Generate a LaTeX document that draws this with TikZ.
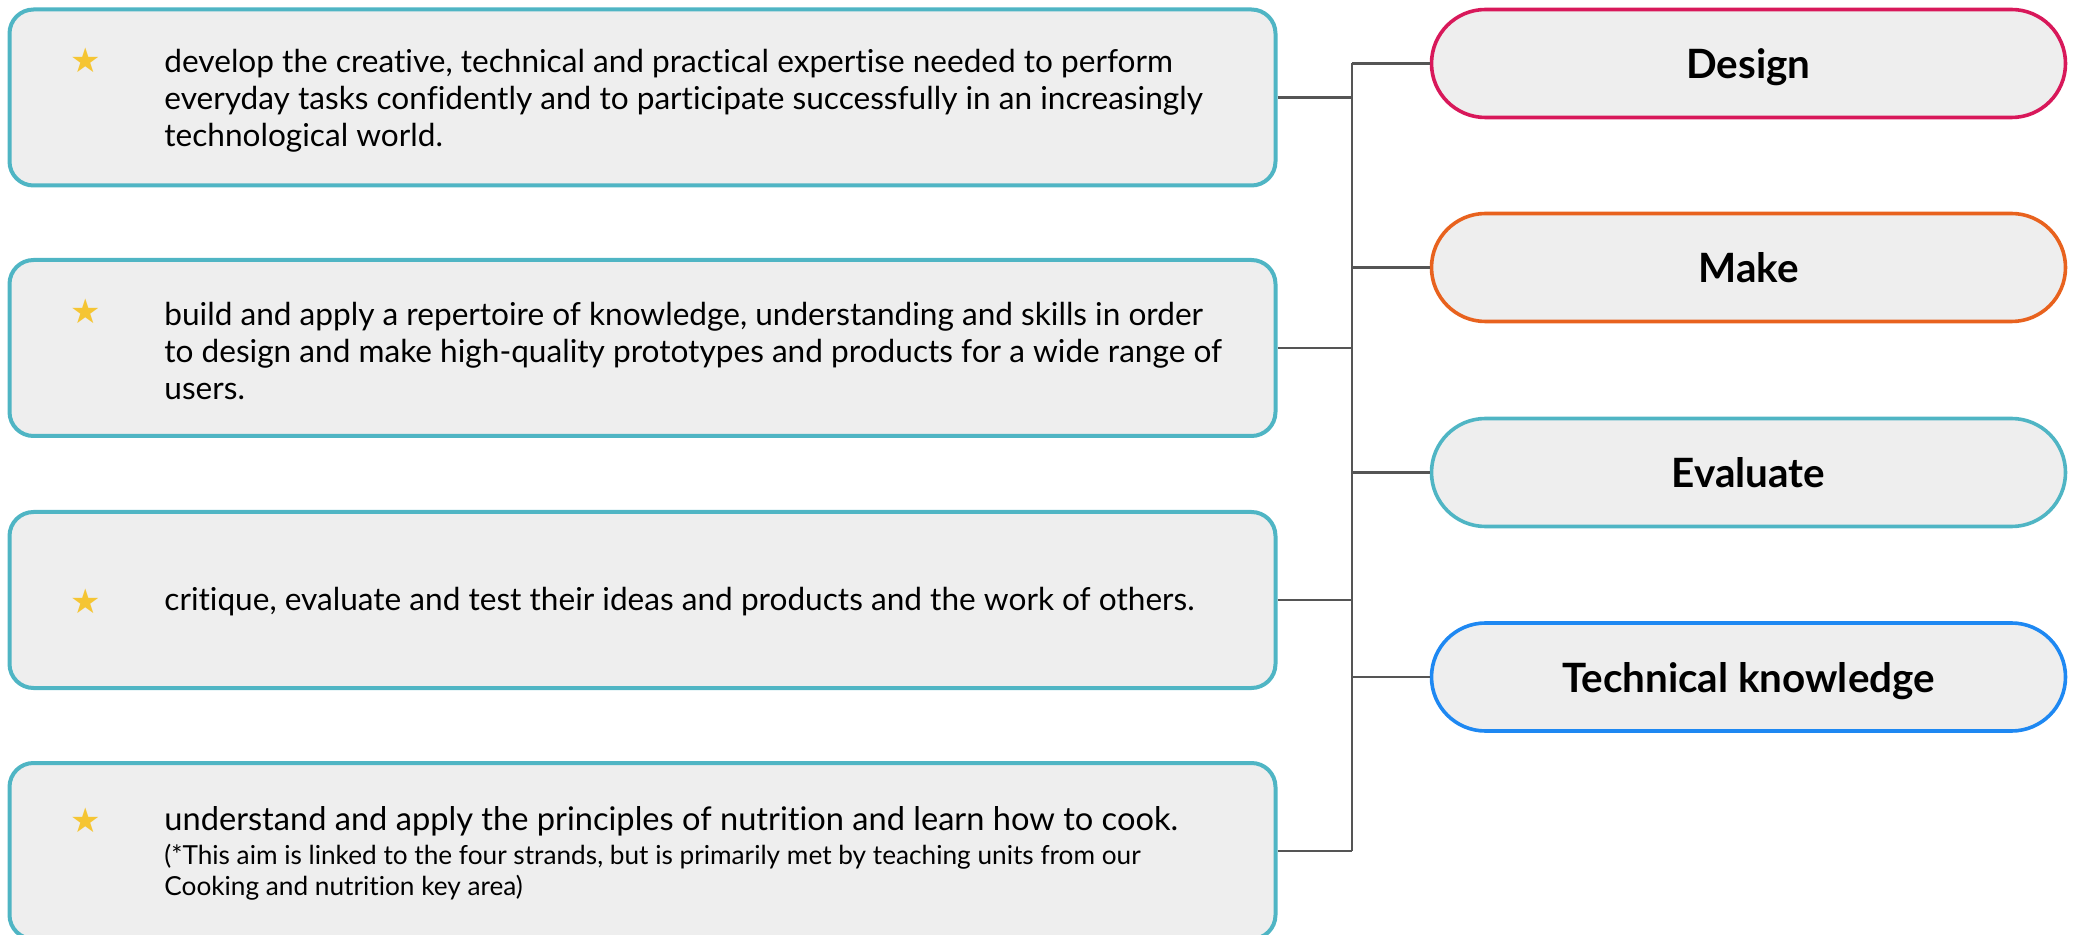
\documentclass[tikz,border=0pt]{standalone}
\usepackage{fontspec}
\setmainfont{Lato}[Ligatures=NoCommon]
\newfontfamily\starfont{DejaVu Sans}
\usetikzlibrary{positioning}

\definecolor{aimteal}{HTML}{4FB5C4}
\definecolor{aimgrey}{HTML}{EEEEEE}
\definecolor{strandred}{HTML}{D8185A}
\definecolor{strandorange}{HTML}{E8621E}
\definecolor{strandblue}{HTML}{1E88F2}
\definecolor{stargold}{HTML}{F5C533}
\definecolor{linkgrey}{HTML}{555555}
\tikzset{aim/.style={draw=aimteal, fill=aimgrey, line width=2pt, rounded corners=12pt, minimum width=633pt, minimum height=88pt}}
\tikzset{strand/.style={draw=#1, fill=aimgrey, line width=1.8pt, rounded corners=27pt, minimum width=317pt, minimum height=54pt, text depth=0pt, font=\fontsize{20.2}{24}\selectfont\bfseries}}
\tikzset{aimtext/.style={anchor=west, align=left, inner sep=0pt, font=\fontsize{15.8}{18.5}\selectfont}}
\tikzset{star/.style={inner sep=0pt, text=stargold, font=\starfont\fontsize{17}{17}\selectfont}}
\tikzset{link/.style={line width=1.1pt, color=linkgrey}}

\begin{document}
\begin{tikzpicture}[x=0.5pt, y=-0.5pt]
        \useasboundingbox (0,0) rectangle (2079,935);

        % aims
        \node[aim] (aim1) at (642.5,  97.5) {};
        \node[aim] (aim2) at (642.5, 348) {};
        \node[aim] (aim3) at (642.5, 600) {};
        \node[aim] (aim4) at (642.5, 851) {};

        \node[star] (s1) at (86,  60) {★};
        \node[star] (s2) at (86, 311) {★};
        \node[star] (s3) at (86, 601) {★};
        \node[star] (s4) at (86, 820) {★};

        \node[aimtext] (t1) at (164, 101) {develop the creative, technical and practical expertise needed to perform\\
            everyday tasks confidently and to participate successfully in an increasingly\\
            technological world.};
        \node[aimtext] (t2) at (164, 351) {build and apply a repertoire of knowledge, understanding and skills in order\\
            to design and make high-quality prototypes and products for a wide range of\\
            users.};
        \node[aimtext] (t3) at (164, 602) {critique, evaluate and test their ideas and products and the work of others.};
        \node[aimtext] (t4) at (164, 853) {\fontsize{16.3}{18.5}\selectfont understand and apply the principles of nutrition and learn how to cook.\\[-1.5pt]
            \fontsize{13.1}{16}\selectfont(*This aim is linked to the four strands, but is primarily met by teaching units from our\\[-3pt]
            \fontsize{13.1}{16}\selectfont Cooking and nutrition key area)};

        % strands
        \node[strand=strandred] (st1) at (1748.5, 63.5) {Design};
        \node[strand=strandorange] (st2) at (1748.5, 267.5) {Make};
        \node[strand=aimteal] (st3) at (1748.5, 472.5) {Evaluate};
        \node[strand=strandblue] (st4) at (1748.5, 677) {Technical knowledge};

        \coordinate (trunk) at (1352, 0);

        \draw [link] (st1.west -| trunk) -- (aim4.east -| trunk);
        \draw [link] (aim1.east) -- (aim1.east -| trunk);
        \draw [link] (aim2.east) -- (aim2.east -| trunk);
        \draw [link] (aim3.east) -- (aim3.east -| trunk);
        \draw [link] (aim4.east) -- (aim4.east -| trunk);
        \draw [link] (st1.west) -- (st1.west -| trunk);
        \draw [link] (st2.west) -- (st2.west -| trunk);
        \draw [link] (st3.west) -- (st3.west -| trunk);
        \draw [link] (st4.west) -- (st4.west -| trunk);

\end{tikzpicture}
\end{document}
